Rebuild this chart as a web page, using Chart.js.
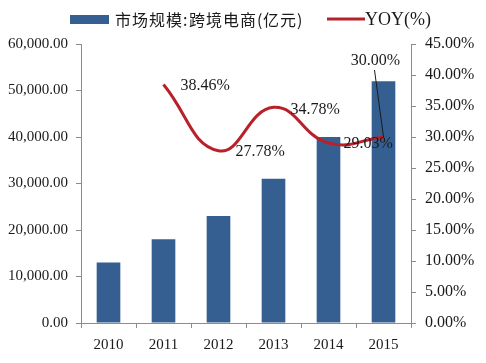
<!DOCTYPE html>
<html>
<head>
<meta charset="utf-8">
<script src="https://cdn.jsdelivr.net/npm/chart.js@4"></script>
<style>
  html, body { margin: 0; padding: 0; background: #fff; }
  canvas { display: block; }
</style>
</head>
<body>
<canvas id="chart" width="486" height="363"></canvas>
<script>
// Data
const years = ['2010', '2011', '2012', '2013', '2014', '2015'];
const marketSize = [13000, 18000, 23000, 31000, 40000, 52000]; // 亿元
const yoy = [null, 38.46, 27.78, 34.78, 29.03, 30.00]; // %
const barLabel = '市场规模:跨境电商(亿元)';
const lineLabel = 'YOY(%)';

const barColor = '#365F91';
const lineColor = '#B8202A';
const axisColor = '#8C8C8C';
const serif = "'Liberation Serif', 'Times New Roman', serif";

// label offsets from each point (the last one sits above with a leader line)
const labelOffsets = [null, [17, 1], [17, 1], [17, 2], [15, 1], [-8, -76]];

function fmtNumber(v) {
    return v.toLocaleString('en-US', { minimumFractionDigits: 2, maximumFractionDigits: 2 });
}

// Draw the percentage labels next to the line
const yoyLabels = {
    id: 'yoyLabels',
    afterDatasetsDraw(chart) {
        const ctx = chart.ctx;
        const meta = chart.getDatasetMeta(1);
        ctx.save();
        ctx.font = '16px ' + serif;
        ctx.fillStyle = '#1a1a1a';
        ctx.textBaseline = 'middle';
        meta.data.forEach((pt, i) => {
            if (yoy[i] == null) return;
            const off = labelOffsets[i];
            const text = yoy[i].toFixed(2) + '%';
            if (i === yoy.length - 1) {
                ctx.textAlign = 'center';
                ctx.fillText(text, pt.x + off[0], pt.y + off[1]);
                // leader line
                ctx.strokeStyle = '#1a1a1a';
                ctx.lineWidth = 1;
                ctx.beginPath();
                ctx.moveTo(pt.x + off[0] - 1, pt.y + off[1] + 9);
                ctx.lineTo(pt.x, pt.y);
                ctx.stroke();
            } else {
                ctx.textAlign = 'left';
                ctx.fillText(text, pt.x + off[0], pt.y + off[1]);
            }
        });
        ctx.restore();
    }
};

// Legend along the top
const topLegend = {
    id: 'topLegend',
    afterDraw(chart) {
        const ctx = chart.ctx;
        ctx.save();
        ctx.fillStyle = barColor;
        ctx.fillRect(70, 15, 39, 9);
        ctx.font = "16px 'Noto Sans CJK SC', sans-serif";
        ctx.fillStyle = '#1a1a1a';
        ctx.textBaseline = 'middle';
        ctx.textAlign = 'left';
        let x = 115;
        for (const ch of barLabel) {
            ctx.fillText(ch, x, 20);
            x += ch.charCodeAt(0) > 255 ? 17 : 6;
        }
        ctx.strokeStyle = lineColor;
        ctx.lineWidth = 3;
        ctx.beginPath();
        ctx.moveTo(327, 19);
        ctx.lineTo(365, 19);
        ctx.stroke();
        ctx.font = '18px ' + serif;
        ctx.fillText(lineLabel, 365, 20);
        ctx.restore();
    }
};

const ctx = document.getElementById('chart').getContext('2d');
new Chart(ctx, {
    data: {
        labels: years,
        datasets: [
            {
                type: 'bar',
                label: barLabel,
                data: marketSize,
                backgroundColor: barColor,
                barPercentage: 0.43,
                categoryPercentage: 1,
                yAxisID: 'y',
                order: 2
            },
            {
                type: 'line',
                label: lineLabel,
                data: yoy,
                borderColor: lineColor,
                borderWidth: 3,
                pointRadius: 0,
                tension: 0.45,
                yAxisID: 'y1',
                order: 1
            }
        ]
    },
    options: {
        responsive: false,
        animation: false,
        events: [],
        layout: { padding: { top: 44, left: 0, right: 0, bottom: 0 } },
        plugins: {
            legend: { display: false },
            tooltip: { enabled: false }
        },
        scales: {
            x: {
                offset: true,
                grid: { drawOnChartArea: false, color: axisColor, tickLength: 5, offset: true },
                border: { color: axisColor },
                ticks: { color: '#1a1a1a', font: { family: serif, size: 15 }, padding: 8 },
                afterFit: (s) => { s.height = 40; }
            },
            y: {
                position: 'left',
                min: 0,
                max: 60000,
                ticks: {
                    stepSize: 10000,
                    color: '#1a1a1a',
                    font: { family: serif, size: 15 },
                    padding: 8,
                    callback: (v) => fmtNumber(v)
                },
                grid: { drawOnChartArea: false, color: axisColor, tickLength: 5 },
                border: { color: axisColor },
                afterFit: (s) => { s.width = 81; }
            },
            y1: {
                position: 'right',
                min: 0,
                max: 45,
                ticks: {
                    stepSize: 5,
                    color: '#1a1a1a',
                    font: { family: serif, size: 16 },
                    padding: 9,
                    callback: (v) => v.toFixed(2) + '%'
                },
                grid: { drawOnChartArea: false, color: axisColor, tickLength: 5 },
                border: { color: axisColor },
                afterFit: (s) => { s.width = 75; }
            }
        }
    },
    plugins: [yoyLabels, topLegend]
});
</script>
</body>
</html>
